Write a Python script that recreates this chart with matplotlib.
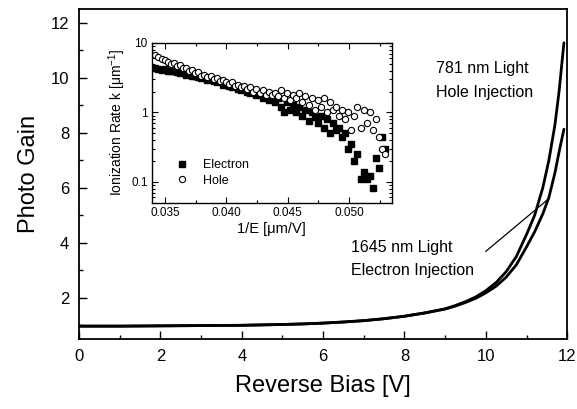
import numpy as np
import matplotlib
matplotlib.use("Agg")
import matplotlib.pyplot as plt
from matplotlib.ticker import MultipleLocator, FixedLocator, FixedFormatter, LogLocator, NullFormatter

plt.rcParams['font.family'] = ['Liberation Sans', 'DejaVu Sans']
plt.rcParams['mathtext.fontset'] = 'custom'
plt.rcParams['mathtext.rm'] = 'Liberation Sans'
plt.rcParams['mathtext.it'] = 'Liberation Sans:italic'

# Photo gain vs reverse bias
bias = [0, 1, 2, 3, 4, 5, 5.5, 6, 6.5, 7, 7.5, 8, 8.5, 9, 9.25, 9.5, 9.75,
        10, 10.25, 10.5, 10.75, 11, 11.2, 11.4, 11.55, 11.7, 11.8, 11.92]
gain_hole = [0.97, 0.97, 0.98, 0.99, 1.0, 1.03, 1.05, 1.08, 1.12, 1.17, 1.24, 1.33,
             1.45, 1.6, 1.72, 1.86, 2.03, 2.26, 2.55, 2.95, 3.5, 4.3, 5.0, 6.0,
             7.0, 8.3, 9.5, 11.27]
gain_elec = [0.97, 0.97, 0.98, 0.99, 1.0, 1.03, 1.05, 1.08, 1.12, 1.17, 1.24, 1.33,
             1.45, 1.59, 1.7, 1.83, 1.98, 2.18, 2.42, 2.75, 3.2, 3.85, 4.4, 5.05,
             5.65, 6.55, 7.3, 8.13]

# Inset: ionization rate vs 1/E
inv_field = [0.03420, 0.03445, 0.03470, 0.03495, 0.03520, 0.03545, 0.03570, 0.03595,
             0.03620, 0.03645, 0.03670, 0.03695, 0.03720, 0.03745, 0.03770, 0.03795,
             0.03820, 0.03845, 0.03870, 0.03895, 0.03920, 0.03945, 0.03970, 0.03995,
             0.04020, 0.04045, 0.04070, 0.04095, 0.04120, 0.04145, 0.04170, 0.04195,
             0.04220, 0.04245, 0.04270, 0.04295, 0.04320, 0.04345, 0.04370, 0.04395,
             0.04420, 0.04445, 0.04470, 0.04495, 0.04520, 0.04545, 0.04570, 0.04595,
             0.04620, 0.04645, 0.04670, 0.04695, 0.04720, 0.04745, 0.04770, 0.04795,
             0.04820, 0.04845, 0.04870, 0.04895, 0.04920, 0.04945, 0.04970, 0.04995,
             0.05020, 0.05045, 0.05070, 0.05095, 0.05120, 0.05145, 0.05170, 0.05195,
             0.05220, 0.05245, 0.05270, 0.05295]
k_hole = [6.8, 6.2, 5.9, 5.6, 5.4, 5.0, 5.1, 4.6, 4.8, 4.3, 4.4, 4.0, 4.1, 3.7, 3.8, 3.4,
          3.5, 3.2, 3.3, 3.0, 3.1, 2.8, 2.9, 2.7, 2.6, 2.7, 2.4, 2.5, 2.3, 2.4, 2.2, 2.3,
          2.0, 2.2, 1.9, 2.1, 1.8, 2.0, 1.8, 1.9, 1.7, 2.1, 1.6, 1.9, 1.5, 1.8, 1.6, 1.9,
          1.4, 1.7, 1.3, 1.6, 1.1, 1.5, 1.2, 1.6, 1.0, 1.4, 1.1, 1.2, 0.9, 1.1, 0.8, 1.0,
          0.55, 0.9, 1.2, 0.6, 1.1, 0.7, 1.0, 0.55, 0.8, 0.45, 0.3, 0.25]
k_elec = [4.3, 4.2, 4.1, 4.2, 4.0, 3.9, 4.0, 3.8, 3.7, 3.8, 3.5, 3.6, 3.3, 3.4, 3.2, 3.1,
          3.2, 2.9, 3.0, 2.8, 2.7, 2.8, 2.5, 2.6, 2.4, 2.3, 2.4, 2.2, 2.1, 2.2, 2.0, 1.9,
          2.0, 1.8, 1.9, 1.6, 1.8, 1.5, 1.7, 1.4, 1.6, 1.2, 1.0, 1.4, 1.1, 1.3, 1.0, 1.2,
          0.9, 1.1, 0.75, 1.0, 0.85, 0.7, 0.9, 0.6, 0.8, 0.5, 0.7, 0.55, 0.6, 0.45, 0.5, 0.3,
          0.35, 0.2, 0.25, 0.11, 0.14, 0.11, 0.12, 0.083, 0.22, 0.16, 0.45, 0.3]

fig = plt.figure(figsize=(5.77, 4.09), dpi=100)
ax = fig.add_axes([0.137, 0.171, 0.846, 0.807])

ax.plot(bias, gain_hole, color='black', lw=2.0, solid_capstyle='round')
ax.plot(bias, gain_elec, color='black', lw=2.0, solid_capstyle='round')

ax.set_xlim(0, 12)
ax.set_ylim(0.5, 12.5)
ax.xaxis.set_major_locator(MultipleLocator(2))
ax.xaxis.set_minor_locator(MultipleLocator(1))
ax.yaxis.set_major_locator(FixedLocator([2, 4, 6, 8, 10, 12]))
ax.yaxis.set_minor_locator(FixedLocator([1, 3, 5, 7, 9, 11]))
ax.tick_params(which='both', direction='in', labelsize=12, width=1.0)
ax.tick_params(which='major', length=6, pad=7)
ax.tick_params(which='minor', length=3)
for s in ax.spines.values():
    s.set_linewidth(1.3)
ax.set_xlabel('Reverse Bias [V]', fontsize=17, labelpad=8)
ax.set_ylabel('Photo Gain', fontsize=17, labelpad=8)

ax.text(8.78, 10.35, '781 nm Light', fontsize=11.5, va='center', ha='left')
ax.text(8.78, 9.48, 'Hole Injection', fontsize=11.5, va='center', ha='left')
ax.text(6.69, 3.84, '1645 nm Light', fontsize=11.5, va='center', ha='left')
ax.text(6.69, 3.0, 'Electron Injection', fontsize=11.5, va='center', ha='left')
ax.plot([10.0, 11.56], [3.69, 5.62], color='black', lw=0.9)

# inset
ins = fig.add_axes([0.263, 0.504, 0.416, 0.391])
ins.semilogy(inv_field, k_elec, 's', color='black', ms=4.5, label='Electron', ls='none')
ins.semilogy(inv_field, k_hole, 'o', mfc='white', mec='black', mew=0.8, ms=4.5,
             label='Hole', ls='none')
ins.set_xlim(0.0339, 0.0535)
ins.set_ylim(0.05, 10)
ins.xaxis.set_major_locator(FixedLocator([0.035, 0.040, 0.045, 0.050]))
ins.xaxis.set_major_formatter(FixedFormatter(['0.035', '0.040', '0.045', '0.050']))
ins.xaxis.set_minor_locator(MultipleLocator(0.0025))
ins.yaxis.set_major_locator(FixedLocator([0.1, 1, 10]))
ins.yaxis.set_major_formatter(FixedFormatter(['0.1', '1', '10']))
ins.yaxis.set_minor_locator(LogLocator(base=10, subs=np.arange(2, 10)))
ins.yaxis.set_minor_formatter(NullFormatter())
ins.tick_params(which='both', direction='in', labelsize=8.5, top=True, right=True, width=0.8)
ins.tick_params(which='major', length=4, pad=3)
ins.tick_params(which='minor', length=2)
for s in ins.spines.values():
    s.set_linewidth(1.0)
ins.set_xlabel('1/E [μm/V]', fontsize=10.5, labelpad=2)
ins.set_ylabel('Ionization Rate k [μm$^{-1}$]', fontsize=10, labelpad=2)
ins.legend(loc='lower left', bbox_to_anchor=(0.08, 0.07), frameon=False, fontsize=9,
           handletextpad=1.2, labelspacing=0.3, borderaxespad=0, handlelength=1.0)

fig.savefig('out.png', dpi=100)
